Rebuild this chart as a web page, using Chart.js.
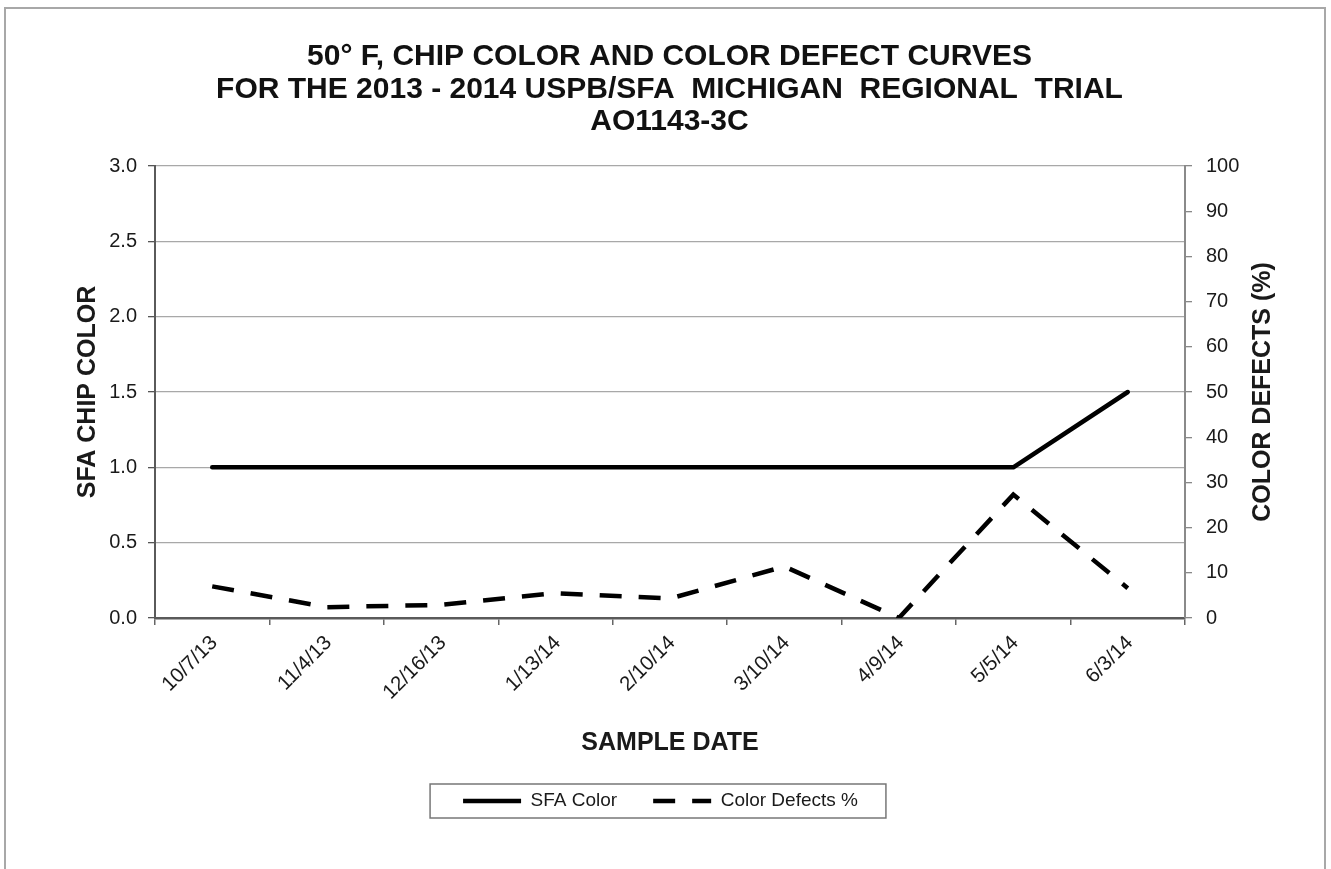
<!DOCTYPE html>
<html>
<head>
<meta charset="utf-8">
<script src="https://cdn.jsdelivr.net/npm/chart.js@4.4.1/dist/chart.umd.min.js"></script>
<style>
  html, body { margin: 0; padding: 0; background: #ffffff; }
  #wrap { width: 1331px; height: 869px; position: relative; }
  canvas { display: block; }
</style>
</head>
<body>
<div id="wrap"><canvas id="chart" width="1331" height="869"></canvas></div>
<script>
// ---------- data ----------
const sampleDates = ['10/7/13', '11/4/13', '12/16/13', '1/13/14', '2/10/14', '3/10/14', '4/9/14', '5/5/14', '6/3/14'];
const sfaColor = [1.0, 1.0, 1.0, 1.0, 1.0, 1.0, 1.0, 1.0, 1.5];
const colorDefects = [7.0, 2.4, 2.9, 5.5, 4.3, 11.4, 0.0, 27.3, 6.6];

const titleLines = [
  '50\u00B0 F, CHIP COLOR AND COLOR DEFECT CURVES',
  'FOR THE 2013 - 2014 USPB/SFA  MICHIGAN  REGIONAL  TRIAL',
  'AO1143-3C'
];
const leftAxisTitle = 'SFA CHIP COLOR';
const rightAxisTitle = 'COLOR DEFECTS (%)';
const xAxisTitle = 'SAMPLE DATE';
const seriesNames = ['SFA Color', 'Color Defects %'];

const leftTickMin = 0, leftTickMax = 3.0, leftTickStep = 0.5;
const rightTickMin = 0, rightTickMax = 100, rightTickStep = 10;

// ---------- styling ----------
const FONT = '"Liberation Sans", Arial, Helvetica, sans-serif';
Chart.defaults.font.family = FONT;
Chart.defaults.color = '#1a1a1a';

const decorPlugin = {
  id: 'decor',
  beforeDraw(chart) {
    const { ctx, width, height } = chart;
    ctx.save();
    ctx.fillStyle = '#ffffff';
    ctx.fillRect(0, 0, width, height);
    ctx.strokeStyle = '#a8a8a8';
    ctx.lineWidth = 2;
    ctx.strokeRect(5, 8, width - 11, height + 20);
    ctx.restore();
  },
  afterLayout(chart) {
    const lg = chart.legend;
    if (lg) { lg.left -= 9; lg.right -= 9; }
  },
  afterDraw(chart) {
    const { ctx, chartArea } = chart;
    // legend frame
    const hb = chart.legend && chart.legend.legendHitBoxes;
    if (hb && hb.length) {
      const first = hb[0], last = hb[hb.length - 1];
      const x0 = first.left - 33;
      const x1 = last.left + last.width + 28;
      const y0 = first.top - 7.5;
      const y1 = first.top + first.height + 7.5;
      ctx.save();
      ctx.strokeStyle = '#777777';
      ctx.lineWidth = 1.5;
      ctx.strokeRect(x0, y0, x1 - x0, y1 - y0);
      ctx.restore();
    }
    // right axis title (reads bottom-to-top)
    ctx.save();
    ctx.translate(chartArea.right + 78, (chartArea.top + chartArea.bottom) / 2);
    ctx.rotate(-Math.PI / 2);
    ctx.font = 'bold 25px ' + FONT;
    ctx.fillStyle = '#1a1a1a';
    ctx.textAlign = 'center';
    ctx.textBaseline = 'middle';
    ctx.fillText(rightAxisTitle, 0, 0);
    ctx.restore();
  }
};

const chart = new Chart(document.getElementById('chart'), {
  type: 'line',
  data: {
    labels: sampleDates,
    datasets: [
      {
        label: seriesNames[0],
        data: sfaColor,
        yAxisID: 'y',
        borderColor: '#000000',
        backgroundColor: '#000000',
        borderWidth: 4.5,
        borderCapStyle: 'round',
        borderJoinStyle: 'round',
        pointRadius: 0,
        tension: 0,
        fill: false
      },
      {
        label: seriesNames[1],
        data: colorDefects,
        yAxisID: 'y1',
        borderColor: '#000000',
        backgroundColor: '#000000',
        borderWidth: 4.5,
        borderDash: [22, 17],
        borderCapStyle: 'butt',
        borderJoinStyle: 'miter',
        pointRadius: 0,
        tension: 0,
        fill: false
      }
    ]
  },
  options: {
    responsive: false,
    animation: false,
    devicePixelRatio: 1,
    layout: { padding: { top: 10, left: 10, right: 2, bottom: 48.5 } },
    plugins: {
      title: {
        display: true,
        text: titleLines,
        color: '#111111',
        font: { size: 30, weight: 'bold', lineHeight: 32.5 / 30 },
        padding: { top: 30.75, bottom: 27.75 }
      },
      legend: {
        display: true,
        position: 'bottom',
        labels: {
          usePointStyle: true,
          pointStyle: 'line',
          pointStyleWidth: 58,
          padding: 36,
          color: '#1a1a1a',
          font: { size: 19 },
          generateLabels(chart) {
            const items = Chart.defaults.plugins.legend.labels.generateLabels(chart);
            items.forEach(it => {
              const ds = chart.data.datasets[it.datasetIndex];
              it.lineDash = ds.borderDash || [];
              it.lineWidth = ds.borderWidth;
              it.strokeStyle = ds.borderColor;
              it.lineCap = 'butt';
              it.pointStyle = 'line';
            });
            return items;
          }
        }
      },
      tooltip: { enabled: false }
    },
    scales: {
      x: {
        type: 'category',
        offset: true,
        grid: { offset: true, drawOnChartArea: false, tickLength: 7, tickColor: '#666666', lineWidth: 1.5 },
        border: { color: '#5a5a5a', width: 2.5 },
        ticks: { minRotation: 45, maxRotation: 45, font: { size: 20.5 }, color: '#1a1a1a', padding: 6, labelOffset: 2, autoSkip: false },
        title: { display: true, text: xAxisTitle, color: '#1a1a1a', font: { size: 25, weight: 'bold', lineHeight: 1 }, padding: { top: 0, bottom: 0 } },
        afterFit(s) { s.height = 137.5; }
      },
      y: {
        position: 'left',
        min: leftTickMin,
        max: leftTickMax,
        ticks: { stepSize: leftTickStep, callback: v => Number(v).toFixed(1), font: { size: 20 }, color: '#1a1a1a', padding: 11 },
        grid: {
          color: c => (c.tick && c.tick.value === 0 ? '#5a5a5a' : '#a8a8a8'),
          lineWidth: 1.3,
          tickLength: 7,
          tickColor: '#555555'
        },
        border: { color: '#5a5a5a', width: 2 },
        title: { display: true, text: leftAxisTitle, color: '#1a1a1a', font: { size: 25, weight: 'bold' }, padding: { top: 63, bottom: 0 } },
        afterFit(s) { s.width = 145; }
      },
      y1: {
        position: 'right',
        min: rightTickMin,
        max: rightTickMax,
        ticks: { stepSize: rightTickStep, font: { size: 20 }, color: '#1a1a1a', padding: 14 },
        grid: { drawOnChartArea: false, tickLength: 7, tickColor: '#888888', lineWidth: 1.3 },
        border: { color: '#8a8a8a', width: 2 },
        afterFit(s) { s.width = 144; }
      }
    }
  },
  plugins: [decorPlugin]
});
</script>
</body>
</html>
